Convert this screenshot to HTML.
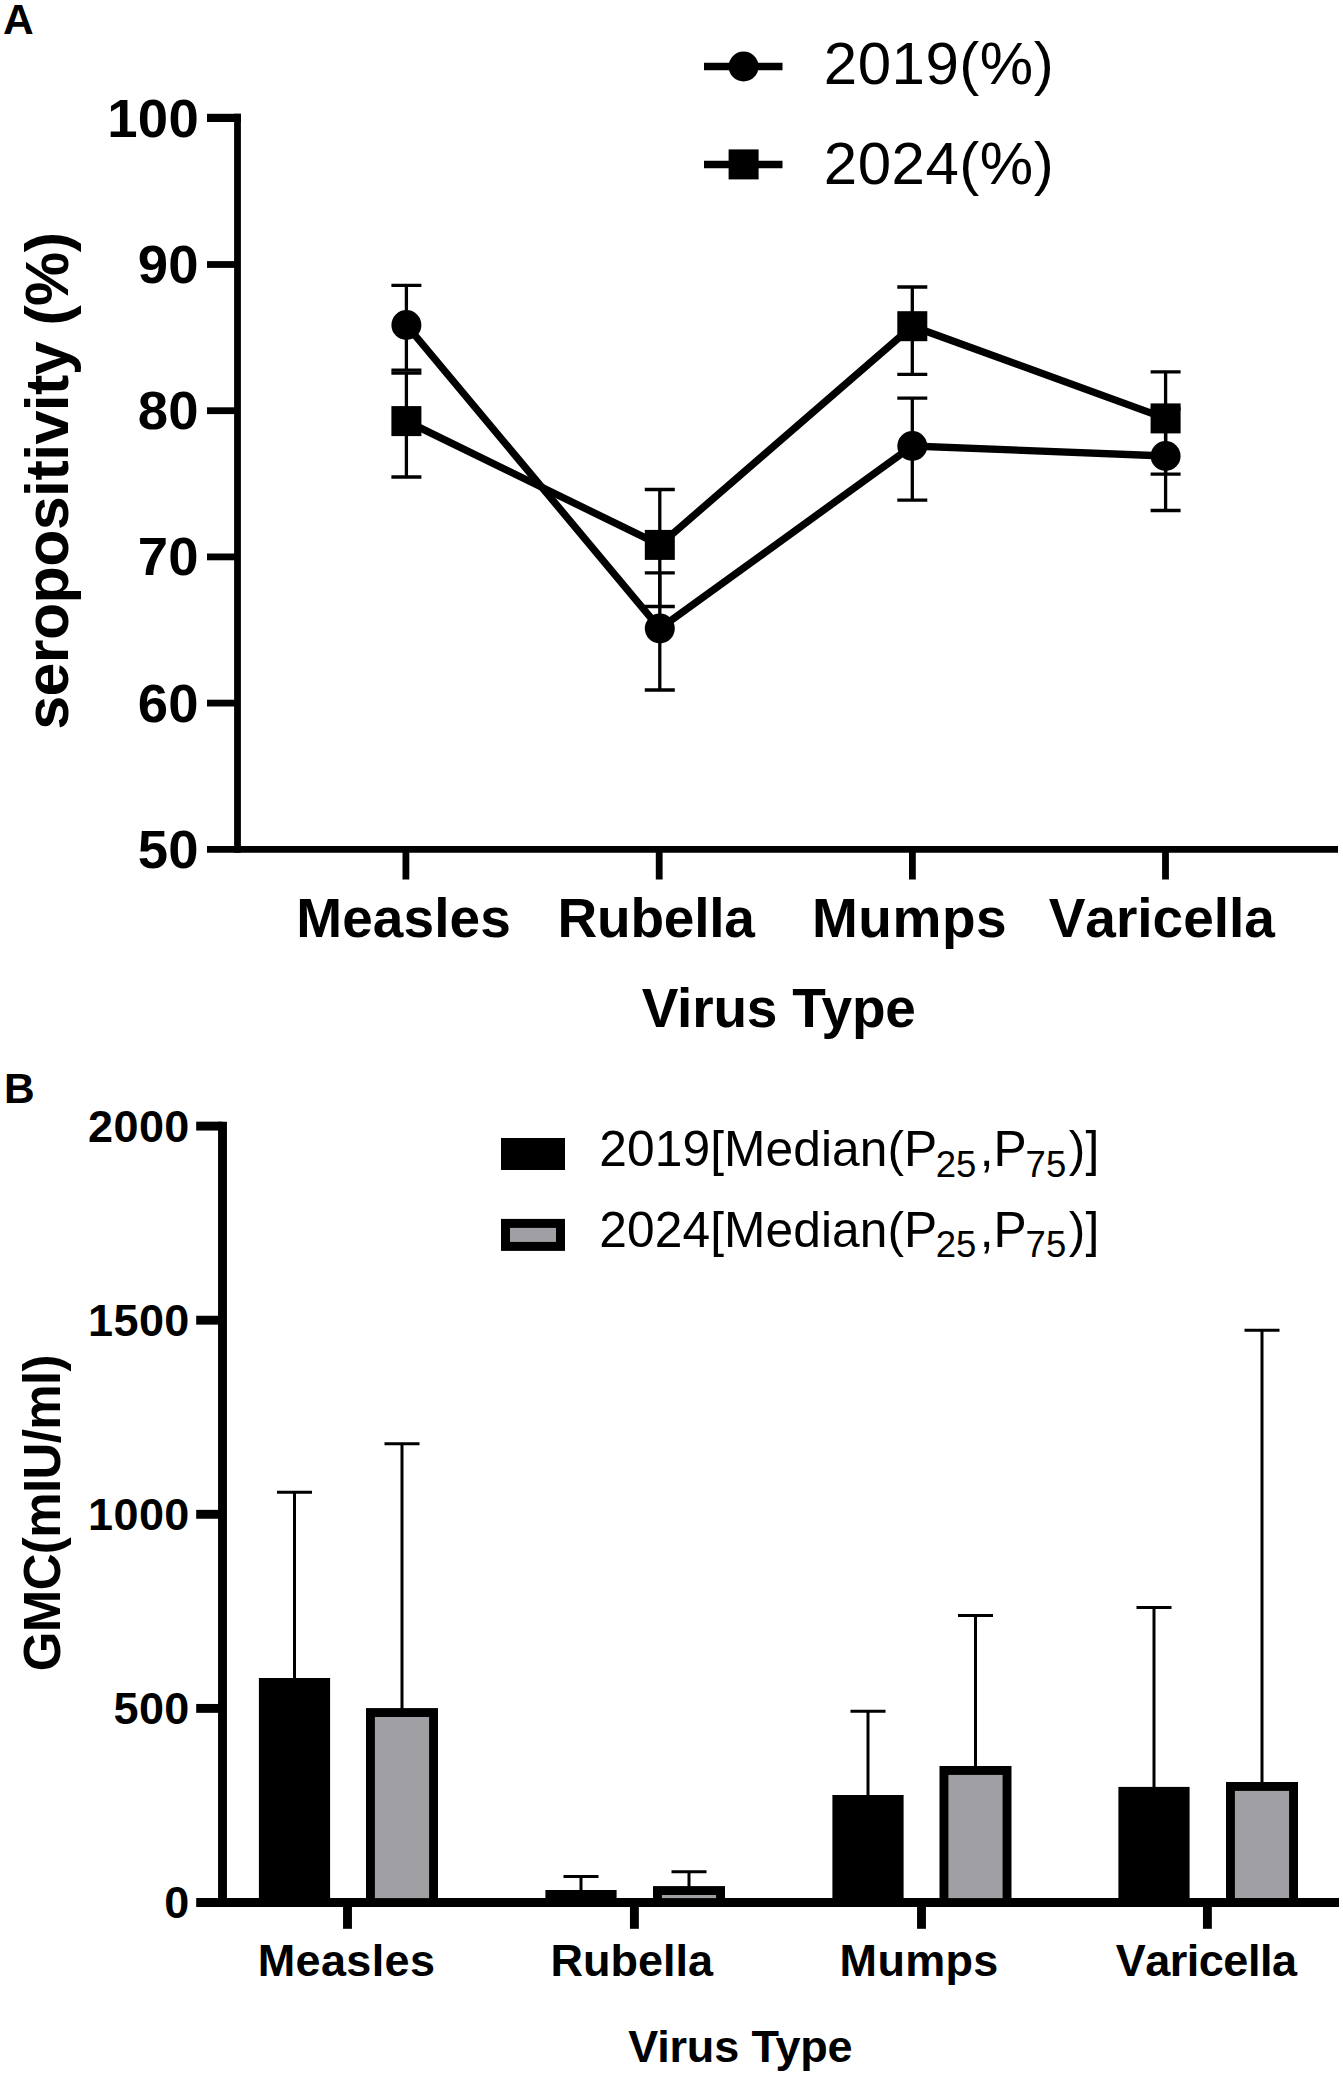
<!DOCTYPE html>
<html lang="en">
<head>
<meta charset="utf-8">
<title>Seropositivity and GMC by virus type</title>
<style>
html,body{margin:0;padding:0;background:#fff;}
svg{display:block;}
text{font-family:"Liberation Sans", sans-serif;fill:#000;font-kerning:none;}
.b{font-weight:bold;}
.k{font-kerning:normal;}
</style>
</head>
<body>
<svg width="1343" height="2076" viewBox="0 0 1343 2076">
<rect width="1343" height="2076" fill="#fff"/>
<!-- Panel A -->
<text class="b" x="3" y="34" font-size="42.5">A</text>
<g stroke="#000" stroke-width="6.8" fill="none">
<line x1="237.5" y1="113.8" x2="237.5" y2="852.6999999999999"/>
<line x1="207" y1="849.3" x2="1338" y2="849.3"/>
<line x1="207" y1="703.1" x2="237.5" y2="703.1"/>
<line x1="207" y1="556.9" x2="237.5" y2="556.9"/>
<line x1="207" y1="410.7" x2="237.5" y2="410.7"/>
<line x1="207" y1="264.5" x2="237.5" y2="264.5"/>
<rect x="207" y="113.8" width="33.9" height="8.2" fill="#000" stroke="none"/>
<line x1="405.9" y1="849.3" x2="405.9" y2="879.5"/>
<line x1="659.2" y1="849.3" x2="659.2" y2="879.5"/>
<line x1="912.4" y1="849.3" x2="912.4" y2="879.5"/>
<line x1="1165.5" y1="849.3" x2="1165.5" y2="879.5"/>
</g>
<text class="b" x="198.90" y="136.7" font-size="54.5" text-anchor="end" letter-spacing="0.20">100</text>
<text class="b" x="198.90" y="282.9" font-size="54.5" text-anchor="end" letter-spacing="0.20">90</text>
<text class="b" x="198.90" y="429.1" font-size="54.5" text-anchor="end" letter-spacing="0.20">80</text>
<text class="b" x="198.90" y="575.3" font-size="54.5" text-anchor="end" letter-spacing="0.20">70</text>
<text class="b" x="198.90" y="721.5" font-size="54.5" text-anchor="end" letter-spacing="0.20">60</text>
<text class="b" x="198.90" y="867.7" font-size="54.5" text-anchor="end" letter-spacing="0.20">50</text>
<text class="b" x="403.60" y="937" font-size="55" text-anchor="middle" letter-spacing="0.10">Measles</text>
<text class="b" x="656.10" y="937" font-size="55" text-anchor="middle" letter-spacing="-0.23">Rubella</text>
<text class="b" x="909.60" y="937" font-size="55" text-anchor="middle" letter-spacing="0.55">Mumps</text>
<text class="b" x="1161.80" y="937" font-size="55" text-anchor="middle" letter-spacing="0.00">Varicella</text>
<text class="b k" x="778.70" y="1026.6" font-size="55" text-anchor="middle" letter-spacing="-0.20">Virus Type</text>
<text class="b k" font-size="61" text-anchor="middle" letter-spacing="-0.62" transform="translate(68.2 481.20) rotate(-90)">seropositivity (%)</text>
<g stroke="#000" stroke-width="3.3" fill="none">
<path d="M406.4 285.4 V370.1 M391.4 285.4 h30 M391.4 370.1 h30"/>
<path d="M659.8 572.9 V690 M644.8 572.9 h30 M644.8 690 h30"/>
<path d="M912.3 398.1 V500.2 M897.3 398.1 h30 M897.3 500.2 h30"/>
<path d="M1165.6 409 V510.5 M1150.6 409 h30 M1150.6 510.5 h30"/>
</g>
<polyline fill="none" stroke="#000" stroke-width="7.3" points="406.4,325 659.8,628.5 912.3,446 1165.6,456"/>
<circle cx="406.4" cy="325" r="15"/>
<circle cx="659.8" cy="628.5" r="15"/>
<circle cx="912.3" cy="446" r="15"/>
<circle cx="1165.6" cy="456" r="15"/>
<g stroke="#000" stroke-width="3.3" fill="none">
<path d="M406.4 373.1 V477 M391.4 373.1 h30 M391.4 477 h30"/>
<path d="M659.8 489.5 V606.5 M644.8 489.5 h30 M644.8 606.5 h30"/>
<path d="M912.3 287 V374.4 M897.3 287 h30 M897.3 374.4 h30"/>
<path d="M1165.6 371.9 V474.1 M1150.6 371.9 h30 M1150.6 474.1 h30"/>
</g>
<polyline fill="none" stroke="#000" stroke-width="7.3" points="406.4,421.1 659.8,544.9 912.3,326.2 1165.6,418.4"/>
<rect x="391.4" y="406.1" width="30" height="30"/>
<rect x="644.8" y="529.9" width="30" height="30"/>
<rect x="897.3" y="311.2" width="30" height="30"/>
<rect x="1150.6" y="403.4" width="30" height="30"/>
<g stroke="#000" stroke-width="7.3"><line x1="704" y1="66.5" x2="782.5" y2="66.5"/><line x1="704" y1="164.5" x2="782.5" y2="164.5"/></g>
<circle cx="743.6" cy="66.5" r="15"/>
<rect x="728.6" y="149.4" width="30" height="30"/>
<text class="r" x="939.00" y="84.4" font-size="60" text-anchor="middle" letter-spacing="0.53">2019(%)</text>
<text class="r" x="939.00" y="183.6" font-size="60" text-anchor="middle" letter-spacing="0.53">2024(%)</text>
<!-- Panel B -->
<text class="b" x="4" y="1103.2" font-size="42.5">B</text>
<g stroke="#000" stroke-width="8.9" fill="none">
<line x1="222.5" y1="1121.6499999999999" x2="222.5" y2="1906.95"/>
<line x1="196.2" y1="1902.5" x2="1339" y2="1902.5"/>
<line x1="196.2" y1="1708.4" x2="222.5" y2="1708.4"/>
<line x1="196.2" y1="1514.3" x2="222.5" y2="1514.3"/>
<line x1="196.2" y1="1320.2" x2="222.5" y2="1320.2"/>
<line x1="196.2" y1="1126.1" x2="222.5" y2="1126.1"/>
<line x1="347.5" y1="1902.5" x2="347.5" y2="1928.8"/>
<line x1="634.4" y1="1902.5" x2="634.4" y2="1928.8"/>
<line x1="921.5" y1="1902.5" x2="921.5" y2="1928.8"/>
<line x1="1207.4" y1="1902.5" x2="1207.4" y2="1928.8"/>
</g>
<text class="b" x="189.80" y="1918.3" font-size="45" text-anchor="end" letter-spacing="0.43">0</text>
<text class="b" x="189.80" y="1724.2" font-size="45" text-anchor="end" letter-spacing="0.43">500</text>
<text class="b" x="189.80" y="1530.1" font-size="45" text-anchor="end" letter-spacing="0.43">1000</text>
<text class="b" x="189.80" y="1336.0" font-size="45" text-anchor="end" letter-spacing="0.43">1500</text>
<text class="b" x="189.80" y="1141.9" font-size="45" text-anchor="end" letter-spacing="0.43">2000</text>
<text class="b" x="346.50" y="1976.3" font-size="45" text-anchor="middle" letter-spacing="0.37">Measles</text>
<text class="b" x="631.70" y="1976.3" font-size="45" text-anchor="middle" letter-spacing="0.00">Rubella</text>
<text class="b" x="919.10" y="1976.3" font-size="45" text-anchor="middle" letter-spacing="0.30">Mumps</text>
<text class="b" x="1206.10" y="1976.3" font-size="45" text-anchor="middle" letter-spacing="-0.48">Varicella</text>
<text class="b k" x="740.30" y="2062" font-size="45" text-anchor="middle" letter-spacing="-0.16">Virus Type</text>
<text class="b k" font-size="51" text-anchor="middle" letter-spacing="-0.62" transform="translate(60.3 1513.20) rotate(-90)">GMC(mIU/ml)</text>
<g stroke="#000" stroke-width="3" fill="none">
<path d="M294.5 1492.3 V1680 M277.0 1492.3 h35"/>
<path d="M581 1876.6 V1892 M563.5 1876.6 h35"/>
<path d="M868 1711.2 V1797 M850.5 1711.2 h35"/>
<path d="M1154 1607.5 V1788.9 M1136.5 1607.5 h35"/>
<path d="M402 1443.7 V1710.1 M384.5 1443.7 h35"/>
<path d="M689 1871.8 V1888.1 M671.5 1871.8 h35"/>
<path d="M975.5 1615.5 V1768 M958.0 1615.5 h35"/>
<path d="M1262 1330.2 V1784 M1244.5 1330.2 h35"/>
</g>
<rect x="258.9" y="1678" width="71.2" height="224.5" fill="#000"/>
<rect x="545.4" y="1890" width="71.2" height="12.5" fill="#000"/>
<rect x="832.4" y="1795" width="71.2" height="107.5" fill="#000"/>
<rect x="1118.4" y="1786.9" width="71.2" height="115.6" fill="#000"/>
<rect x="370.45" y="1712.55" width="63.1" height="190.0" fill="#A0A0A4" stroke="#000" stroke-width="8.9"/>
<rect x="657.45" y="1890.55" width="63.1" height="12.0" fill="#A0A0A4" stroke="#000" stroke-width="8.9"/>
<rect x="943.95" y="1770.45" width="63.1" height="132.1" fill="#A0A0A4" stroke="#000" stroke-width="8.9"/>
<rect x="1230.45" y="1786.45" width="63.1" height="116.0" fill="#A0A0A4" stroke="#000" stroke-width="8.9"/>
<rect x="501" y="1138" width="64" height="32" fill="#000"/>
<rect x="505.5" y="1223.4" width="55" height="23" fill="#A0A0A4" stroke="#000" stroke-width="9"/>
<text class="r" x="849.30" y="1166.2" font-size="49.7" text-anchor="middle" letter-spacing="0.08">2019[Median(P<tspan font-size="36.5" dy="10.7" dx="-1.7">25</tspan><tspan dy="-10.7" dx="3.3">,P</tspan><tspan font-size="36.5" dy="10.7" dx="-1.2">75</tspan><tspan dy="-10.7" dx="2.4">)]</tspan></text>
<text class="r" x="849.30" y="1246.5" font-size="49.7" text-anchor="middle" letter-spacing="0.08">2024[Median(P<tspan font-size="36.5" dy="10.7" dx="-1.7">25</tspan><tspan dy="-10.7" dx="3.3">,P</tspan><tspan font-size="36.5" dy="10.7" dx="-1.2">75</tspan><tspan dy="-10.7" dx="2.4">)]</tspan></text>
</svg>
</body>
</html>
